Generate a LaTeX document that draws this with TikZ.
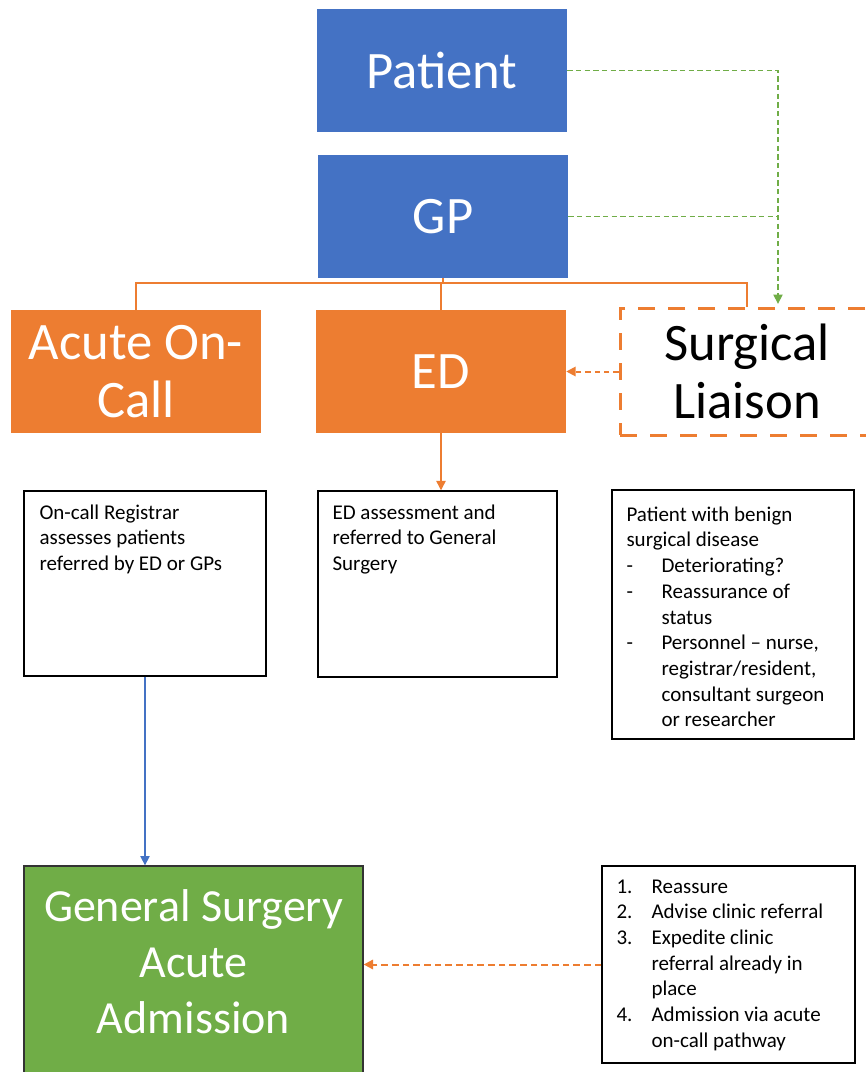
\documentclass[tikz,border=0pt]{standalone}
\usepackage{fontspec}
\setmainfont{Carlito}
\usetikzlibrary{arrows.meta,calc}
\definecolor{bblue}{HTML}{4472C4}
\definecolor{borange}{HTML}{ED7D31}
\definecolor{bgreen}{HTML}{70AD47}
\begin{document}
\begin{tikzpicture}[x=0.75pt,y=-0.75pt,
 bigbox/.style={minimum width=187.5pt,minimum height=92.25pt,inner sep=0pt,text=white,font=\fontsize{39.5}{43}\selectfont,align=center},
 bluebox/.style={bigbox,fill=bblue},
 orangebox/.style={bigbox,fill=borange},
 txtbox/.style={draw=black,line width=1.1pt,inner sep=0pt},
 txt/.style={anchor=north west,inner sep=0pt,align=left,font=\fontsize{15.75}{19.3}\selectfont},
 tip/.style={-{Triangle[width=7pt,length=7pt]}},
 tree/.style={borange,line width=1.2pt},
]
\clip (0,0) rectangle (866,1072);
\fill[white] (0,0) rectangle (866,1072);

% top boxes
\node[bluebox] (patient) at (442,70.5) {Patient};
\node[bluebox] (gp) at (443,216.5) {GP};
\node[orangebox] (acute) at (136,371.5) {Acute On-\\Call};
\node[orangebox] (ed) at (441,371.5) {ED};
\node[bigbox,text=black,draw=borange,line width=2.25pt,dash pattern=on 12.75pt off 9.75pt,minimum width=190.5pt,minimum height=95.25pt] (surg) at (747,371.5) {Surgical\\Liaison};

% text boxes
\node[txtbox,minimum width=181.5pt,minimum height=138.75pt] (b1) at (145,583.5) {};
\node[txtbox,minimum width=179.25pt,minimum height=139.5pt] (b2) at (437.5,584) {};
\node[txtbox,minimum width=181.5pt,minimum height=186.75pt] (b3) at (733,614.5) {};
\node[txtbox,minimum width=189.75pt,minimum height=147.75pt] (b4) at (728.5,964.5) {};
\node[fill=bgreen,draw=black!80,line width=1pt,minimum width=254.25pt,minimum height=157.5pt,inner sep=0pt] (green) at (193.5,971) {};
\node[text=white,align=center,inner sep=0pt,font=\fontsize{34.5}{42}\selectfont] (gtext) at (193.5,962) {General Surgery\\Acute\\Admission};

\node[txt] (t1) at ($(b1.north west)+(16,14)$) {On-call Registrar\\assesses patients\\referred by ED or GPs};
\node[txt] (t2) at ($(b2.north west)+(15,14)$) {ED assessment and\\referred to General\\Surgery};
\node[txt] (t3) at ($(b3.north west)+(15,17)$) {Patient with benign\\surgical disease\\\makebox[26.25pt][l]{-}Deteriorating?\\\makebox[26.25pt][l]{-}Reassurance of\\\hspace*{26.25pt}status\\\makebox[26.25pt][l]{-}Personnel – nurse,\\\hspace*{26.25pt}registrar/resident,\\\hspace*{26.25pt}consultant surgeon\\\hspace*{26.25pt}or researcher};
\node[txt] (t4) at ($(b4.north west)+(15,14)$) {\makebox[26.25pt][l]{1.}Reassure\\\makebox[26.25pt][l]{2.}Advise clinic referral\\\makebox[26.25pt][l]{3.}Expedite clinic\\\hspace*{26.25pt}referral already in\\\hspace*{26.25pt}place\\\makebox[26.25pt][l]{4.}Admission via acute\\\hspace*{26.25pt}on-call pathway};

% tree connectors
\draw[tree] (gp.south) -- ++(0,5) coordinate (hub);
\draw[tree] (acute.north) |- (hub) -| (surg.north);
\draw[tree] (ed.north) -- (ed.north |- hub);

% green dashed
\coordinate (gx) at ($(surg.north)+(31,0)$);
\draw[bgreen,line width=1pt,dash pattern=on 4pt off 2.5pt,tip,shorten >=2pt] (patient.east) -| (gx);
\draw[bgreen,line width=1pt,dash pattern=on 4pt off 2.5pt] (gp.east) -- (gp.east -| gx);

% other connectors
\draw[borange,line width=1.5pt,dash pattern=on 4pt off 3pt,tip] (surg.west) -- (ed.east);
\draw[borange,line width=1pt,tip] (ed.south) -- (ed.south |- b2.north);
\draw[bblue,line width=1pt,tip] (b1.south) -- (b1.south |- green.north);
\draw[borange,line width=1.5pt,dash pattern=on 5pt off 3pt,tip] (b4.west) -- (b4.west -| green.east);
\end{tikzpicture}
\end{document}
